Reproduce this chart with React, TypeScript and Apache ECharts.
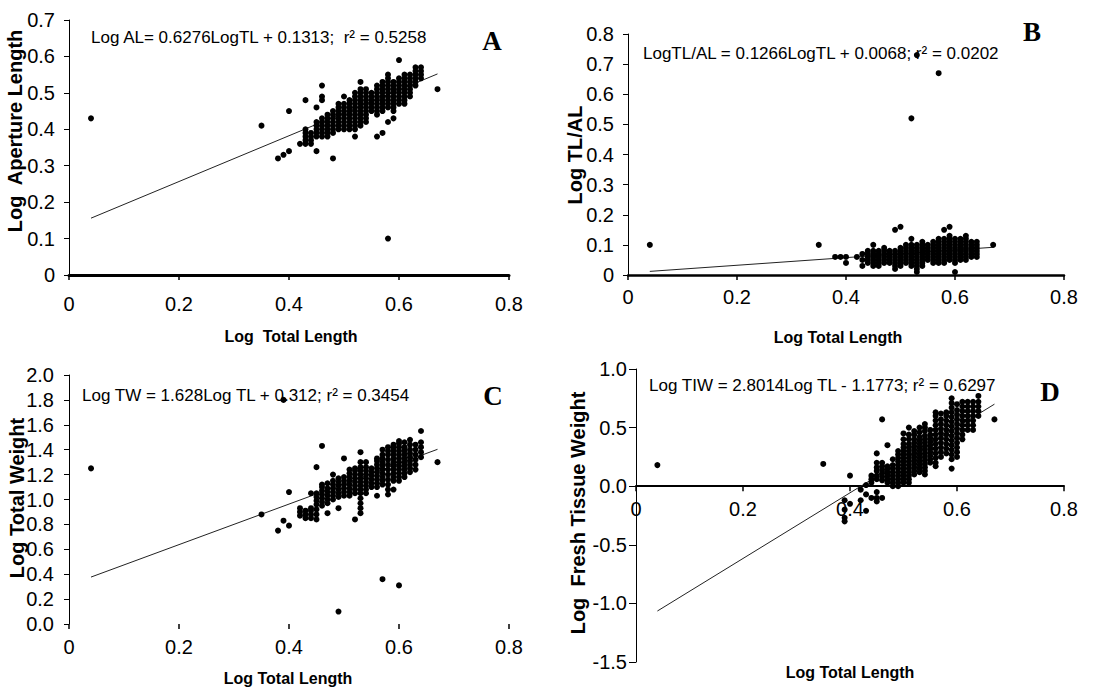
import React, { useEffect, useRef } from "react";
import * as echarts from "echarts";

// ---------- DATA (columns of points: [Log TL, [y values]]) ----------
const colsA: [number, number[]][] = [
  [0.04, [0.43]],
  [0.35, [0.41]],
  [0.38, [0.32]],
  [0.39, [0.33]],
  [0.4, [0.34, 0.45]],
  [0.42, [0.36]],
  [0.43, [0.36, 0.37, 0.38, 0.39, 0.4, 0.48]],
  [0.44, [0.36, 0.37, 0.38, 0.39]],
  [0.45, [0.34, 0.38, 0.39, 0.4, 0.41, 0.42, 0.46]],
  [0.46, [0.38, 0.39, 0.4, 0.41, 0.42, 0.43, 0.48, 0.49, 0.52]],
  [0.47, [0.38, 0.39, 0.4, 0.41, 0.42, 0.43, 0.44]],
  [0.48, [0.32, 0.39, 0.4, 0.41, 0.42, 0.43, 0.44, 0.45]],
  [0.49, [0.4, 0.41, 0.42, 0.43, 0.44, 0.45, 0.46, 0.47]],
  [0.5, [0.4, 0.41, 0.42, 0.43, 0.44, 0.45, 0.46, 0.47, 0.49]],
  [0.51, [0.4, 0.41, 0.42, 0.43, 0.44, 0.45, 0.46, 0.47, 0.48]],
  [0.52, [0.38, 0.4, 0.41, 0.42, 0.43, 0.44, 0.45, 0.46, 0.47, 0.48, 0.49, 0.5]],
  [0.53, [0.41, 0.42, 0.43, 0.44, 0.45, 0.46, 0.47, 0.48, 0.49, 0.5, 0.51, 0.53]],
  [0.54, [0.42, 0.43, 0.44, 0.45, 0.46, 0.47, 0.48, 0.49, 0.5, 0.51]],
  [0.55, [0.45, 0.46, 0.47, 0.48, 0.49, 0.5]],
  [0.56, [0.38, 0.44, 0.45, 0.46, 0.47, 0.48, 0.49, 0.5, 0.51, 0.52]],
  [0.57, [0.39, 0.45, 0.46, 0.47, 0.48, 0.49, 0.5, 0.51, 0.52, 0.53]],
  [0.58, [0.1, 0.42, 0.46, 0.47, 0.48, 0.49, 0.5, 0.51, 0.52, 0.53, 0.54, 0.55]],
  [0.59, [0.43, 0.45, 0.46, 0.47, 0.48, 0.49, 0.5, 0.51, 0.52, 0.53]],
  [0.6, [0.47, 0.48, 0.49, 0.5, 0.51, 0.52, 0.53, 0.54, 0.59]],
  [0.61, [0.47, 0.48, 0.49, 0.5, 0.51, 0.52, 0.53, 0.54, 0.55]],
  [0.62, [0.49, 0.5, 0.51, 0.52, 0.53, 0.54, 0.55]],
  [0.63, [0.52, 0.53, 0.54, 0.55, 0.56, 0.57]],
  [0.64, [0.54, 0.55, 0.56, 0.57]],
  [0.67, [0.51]],
];

const colsB: [number, number[]][] = [
  [0.04, [0.1]],
  [0.35, [0.1]],
  [0.38, [0.06]],
  [0.39, [0.06]],
  [0.4, [0.04, 0.06]],
  [0.42, [0.06]],
  [0.43, [0.03, 0.05, 0.07]],
  [0.44, [0.04, 0.05, 0.06, 0.07, 0.08]],
  [0.45, [0.03, 0.04, 0.05, 0.06, 0.07, 0.08, 0.1]],
  [0.46, [0.03, 0.04, 0.05, 0.06, 0.07, 0.08]],
  [0.47, [0.04, 0.05, 0.06, 0.07, 0.08, 0.09]],
  [0.48, [0.04, 0.05, 0.06, 0.07, 0.08]],
  [0.49, [0.02, 0.03, 0.04, 0.05, 0.06, 0.07, 0.08, 0.15]],
  [0.5, [0.03, 0.04, 0.05, 0.06, 0.07, 0.08, 0.09, 0.16]],
  [0.51, [0.04, 0.05, 0.06, 0.07, 0.08, 0.09, 0.1]],
  [0.52, [0.03, 0.04, 0.05, 0.06, 0.07, 0.08, 0.09, 0.1, 0.12, 0.52]],
  [0.53, [0.01, 0.02, 0.03, 0.04, 0.05, 0.06, 0.07, 0.08, 0.09, 0.1, 0.73]],
  [0.54, [0.03, 0.04, 0.05, 0.06, 0.07, 0.08, 0.09, 0.1, 0.11]],
  [0.55, [0.05, 0.06, 0.07, 0.08, 0.09, 0.1]],
  [0.56, [0.04, 0.05, 0.06, 0.07, 0.08, 0.09, 0.1, 0.11]],
  [0.57, [0.04, 0.05, 0.06, 0.07, 0.08, 0.09, 0.1, 0.11, 0.12, 0.67]],
  [0.58, [0.04, 0.05, 0.06, 0.07, 0.08, 0.09, 0.1, 0.11, 0.12, 0.15]],
  [0.59, [0.05, 0.06, 0.07, 0.08, 0.09, 0.1, 0.11, 0.12, 0.13, 0.16]],
  [0.6, [0.01, 0.04, 0.05, 0.06, 0.07, 0.08, 0.09, 0.1, 0.11, 0.12]],
  [0.61, [0.05, 0.06, 0.07, 0.08, 0.09, 0.1, 0.11, 0.12]],
  [0.62, [0.05, 0.06, 0.07, 0.08, 0.09, 0.1, 0.11, 0.12, 0.13]],
  [0.63, [0.06, 0.07, 0.08, 0.09, 0.1, 0.11]],
  [0.64, [0.06, 0.07, 0.08, 0.09, 0.1, 0.11]],
  [0.67, [0.1]],
];

const colsC: [number, number[]][] = [
  [0.04, [1.25]],
  [0.35, [0.88]],
  [0.38, [0.75]],
  [0.39, [0.83, 1.8]],
  [0.4, [0.79, 1.06]],
  [0.42, [0.87, 0.9, 0.93]],
  [0.43, [0.85, 0.88, 0.91]],
  [0.44, [0.85, 0.88, 0.91, 0.93, 1.05]],
  [0.45, [0.84, 0.88, 0.92, 0.96, 0.99, 1.02, 1.05, 1.26]],
  [0.46, [0.95, 0.98, 1.01, 1.04, 1.07, 1.1, 1.12, 1.43]],
  [0.47, [0.89, 0.97, 1.0, 1.03, 1.06, 1.09, 1.13]],
  [0.48, [1.0, 1.03, 1.06, 1.09, 1.12, 1.15, 1.2]],
  [0.49, [0.1, 0.93, 1.02, 1.05, 1.08, 1.11, 1.14, 1.17]],
  [0.5, [1.03, 1.06, 1.09, 1.12, 1.15, 1.18, 1.33]],
  [0.51, [1.03, 1.06, 1.09, 1.12, 1.15, 1.18, 1.21, 1.24]],
  [0.52, [0.84, 1.05, 1.08, 1.11, 1.14, 1.17, 1.2, 1.23, 1.25]],
  [0.53, [0.89, 0.93, 0.97, 1.01, 1.05, 1.08, 1.11, 1.14, 1.17, 1.2, 1.23, 1.26, 1.3, 1.38]],
  [0.54, [1.05, 1.08, 1.11, 1.14, 1.17, 1.2, 1.23, 1.26, 1.3]],
  [0.55, [1.1, 1.13, 1.16, 1.19, 1.22, 1.25]],
  [0.56, [1.03, 1.1, 1.13, 1.16, 1.19, 1.22, 1.25, 1.28, 1.31, 1.33]],
  [0.57, [0.36, 1.12, 1.15, 1.18, 1.21, 1.24, 1.27, 1.3, 1.33, 1.36, 1.4]],
  [0.58, [1.04, 1.08, 1.12, 1.16, 1.2, 1.24, 1.28, 1.32, 1.36, 1.39, 1.42]],
  [0.59, [1.08, 1.15, 1.18, 1.21, 1.24, 1.27, 1.3, 1.33, 1.36, 1.39, 1.42, 1.44]],
  [0.6, [0.31, 1.15, 1.18, 1.21, 1.24, 1.27, 1.3, 1.33, 1.36, 1.39, 1.42, 1.45, 1.47]],
  [0.61, [1.18, 1.21, 1.24, 1.27, 1.3, 1.33, 1.36, 1.39, 1.42, 1.46]],
  [0.62, [1.22, 1.25, 1.28, 1.31, 1.34, 1.37, 1.4, 1.44, 1.48]],
  [0.63, [1.24, 1.28, 1.32, 1.36, 1.4, 1.44]],
  [0.64, [1.34, 1.38, 1.42, 1.46, 1.55]],
  [0.67, [1.3]],
];

const colsD: [number, number[]][] = [
  [0.04, [0.18]],
  [0.35, [0.19]],
  [0.39, [-0.12, -0.2, -0.27, -0.3]],
  [0.4, [0.09, -0.15]],
  [0.42, [-0.03, -0.12]],
  [0.43, [0.01, -0.07, -0.21]],
  [0.44, [0.03, 0.06, 0.09, -0.1]],
  [0.45, [-0.13, -0.1, -0.05, 0.06, 0.09, 0.13, 0.16, 0.2, 0.28]],
  [0.46, [-0.1, 0.05, 0.08, 0.11, 0.14, 0.17, 0.2, 0.57]],
  [0.47, [0.03, 0.06, 0.09, 0.12, 0.15, 0.17, 0.35]],
  [0.48, [0.0, 0.03, 0.06, 0.09, 0.12, 0.15, 0.18, 0.23]],
  [0.49, [0.0, 0.03, 0.06, 0.09, 0.12, 0.15, 0.18, 0.21, 0.24, 0.27, 0.3]],
  [0.5, [0.03, 0.06, 0.09, 0.12, 0.15, 0.18, 0.21, 0.24, 0.27, 0.3, 0.33, 0.36, 0.4, 0.45]],
  [0.51, [0.03, 0.06, 0.09, 0.12, 0.15, 0.18, 0.21, 0.24, 0.27, 0.3, 0.33, 0.36, 0.4, 0.44, 0.5]],
  [0.52, [0.1, 0.13, 0.16, 0.19, 0.22, 0.25, 0.28, 0.31, 0.34, 0.37, 0.4, 0.44, 0.47]],
  [0.53, [0.12, 0.15, 0.18, 0.21, 0.24, 0.27, 0.3, 0.33, 0.36, 0.39, 0.42, 0.46, 0.5]],
  [0.54, [0.1, 0.13, 0.16, 0.19, 0.22, 0.25, 0.28, 0.31, 0.34, 0.37, 0.4, 0.43, 0.47, 0.5, 0.53]],
  [0.55, [0.2, 0.23, 0.26, 0.29, 0.32, 0.35, 0.38, 0.41, 0.44, 0.48]],
  [0.56, [0.17, 0.2, 0.24, 0.28, 0.32, 0.36, 0.4, 0.44, 0.48, 0.52, 0.56, 0.6, 0.63]],
  [0.57, [0.25, 0.29, 0.33, 0.37, 0.41, 0.45, 0.49, 0.53, 0.57, 0.62]],
  [0.58, [0.28, 0.32, 0.36, 0.4, 0.44, 0.48, 0.52, 0.56, 0.6, 0.63]],
  [0.59, [0.15, 0.23, 0.27, 0.31, 0.35, 0.39, 0.43, 0.47, 0.51, 0.55, 0.59, 0.63, 0.67, 0.71, 0.75]],
  [0.6, [0.25, 0.29, 0.33, 0.37, 0.41, 0.45, 0.49, 0.53, 0.57, 0.61, 0.65, 0.7]],
  [0.61, [0.4, 0.44, 0.48, 0.52, 0.56, 0.6, 0.64, 0.68, 0.72]],
  [0.62, [0.48, 0.52, 0.56, 0.6, 0.64, 0.68, 0.72]],
  [0.63, [0.48, 0.52, 0.56, 0.6, 0.64, 0.68, 0.72]],
  [0.64, [0.6, 0.64, 0.68, 0.72, 0.77]],
  [0.67, [0.57]],
];

// Trend lines (end points)
const trendA = [[0.04, 0.156], [0.67, 0.552]];
const trendB = [[0.04, 0.012], [0.67, 0.092]];
const trendC = [[0.04, 0.377], [0.67, 1.403]];
const trendD = [[0.04, -1.065], [0.67, 0.7]];

const equations = [
  "Log AL= 0.6276LogTL + 0.1313;  r² = 0.5258",
  "LogTL/AL = 0.1266LogTL + 0.0068; r² = 0.0202",
  "Log TW = 1.628Log TL + 0.312; r² = 0.3454",
  "Log TIW = 2.8014Log TL - 1.1773; r² = 0.6297",
];
const panelLetters = ["A", "B", "C", "D"];
const yTitles = ["Log  Aperture Length", "Log TL/AL", "Log Total Weight", "Log  Fresh Tissue Weight"];
const xTitles = ["Log  Total Length", "Log Total Length", "Log Total Length", "Log Total Length"];

const yRanges = [
  { min: 0, max: 0.7, interval: 0.1 },
  { min: 0, max: 0.8, interval: 0.1 },
  { min: 0, max: 2.0, interval: 0.2 },
  { min: -1.5, max: 1.0, interval: 0.5 },
];

// ---------- LAYOUT ----------
const grids = [
  { left: 69, top: 20, width: 440, height: 255 },
  { left: 628, top: 34, width: 436, height: 241 },
  { left: 69, top: 375, width: 440, height: 249 },
  { left: 636, top: 369, width: 428, height: 293 },
];

const FONT = "'Liberation Sans', Arial, sans-serif";

const flatten = (cols: [number, number[]][]) =>
  cols.flatMap(([x, ys]) => ys.map((y) => [x, y]));

export default function App() {
  const ref = useRef<HTMLDivElement>(null);
  useEffect(() => {
    if (!ref.current) return;
    const chart = echarts.init(ref.current, null, { renderer: "svg" });
    const allCols = [colsA, colsB, colsC, colsD];
    const trends = [trendA, trendB, trendC, trendD];

    const xLineWidth = [3, 2.5, 0, 2];
    const xLabelMargin = [19, 12, 13, 13];
    // D's x axis sits at y = 0: shift it up from the grid bottom
    const dZeroOffset = -(grids[3].height * (0 - yRanges[3].min)) / (yRanges[3].max - yRanges[3].min);
    const xOffset = [0, 0, 0, dZeroOffset];
    const yLabelMargin = [14, 14, 15, 9];
    const yTickLen = [5, 5, 5, 7];
    const yFormat = [
      undefined,
      undefined,
      (v: number) => v.toFixed(1),
      (v: number) => v.toFixed(1),
    ];

    const xAxis = grids.map((_, i) => ({
      gridIndex: i,
      type: "value",
      position: "bottom",
      offset: xOffset[i],
      min: 0,
      max: 0.8,
      interval: 0.2,
      axisLine: {
        show: xLineWidth[i] > 0,
        onZero: false,
        lineStyle: { color: "#000", width: xLineWidth[i] || 1 },
      },
      axisTick: { show: true, length: 5, lineStyle: { color: "#000", width: 1.5 } },
      axisLabel: { fontSize: 20, color: "#000", margin: xLabelMargin[i], fontFamily: FONT },
      splitLine: { show: false },
    }));

    const yAxis = grids.map((_, i) => ({
      gridIndex: i,
      type: "value",
      min: yRanges[i].min,
      max: yRanges[i].max,
      interval: yRanges[i].interval,
      axisLine: { show: true, onZero: false, lineStyle: { color: "#000", width: 1 } },
      axisTick: { show: true, length: yTickLen[i], lineStyle: { color: "#000", width: 1 } },
      axisLabel: {
        fontSize: 20,
        color: "#000",
        margin: yLabelMargin[i],
        fontFamily: FONT,
        formatter: yFormat[i],
      },
      splitLine: { show: false },
    }));

    const series: any[] = [];
    allCols.forEach((cols, i) => {
      series.push({
        type: "scatter",
        xAxisIndex: i,
        yAxisIndex: i,
        data: flatten(cols),
        symbol: "circle",
        symbolSize: 6,
        itemStyle: { color: "#000", opacity: 1, borderWidth: 0 },
        z: 3,
      });
      series.push({
        type: "line",
        xAxisIndex: i,
        yAxisIndex: i,
        data: trends[i],
        symbol: "none",
        lineStyle: { color: "#222", width: 1 },
        z: 2,
      });
    });

    const eqPos = [
      { x: 91, y: 37 },
      { x: 643, y: 53 },
      { x: 82, y: 395 },
      { x: 649, y: 385 },
    ];
    const letterPos = [
      { x: 492, y: 41 },
      { x: 1032, y: 32 },
      { x: 493, y: 396 },
      { x: 1050, y: 392 },
    ];
    const yTitlePos = [
      { x: 15, y: 131 },
      { x: 575, y: 155 },
      { x: 17, y: 498 },
      { x: 578, y: 513 },
    ];
    const xTitlePos = [
      { x: 291, y: 336 },
      { x: 838, y: 337 },
      { x: 288, y: 678 },
      { x: 850, y: 672 },
    ];

    const graphic: any[] = [];
    for (let i = 0; i < 4; i++) {
      graphic.push({
        type: "text",
        x: eqPos[i].x,
        y: eqPos[i].y,
        style: {
          text: equations[i],
          fontSize: 17,
          fontFamily: FONT,
          fill: "#000",
          align: "left",
          verticalAlign: "middle",
          textAlign: "left",
          textVerticalAlign: "middle",
        },
        z: 10,
      });
      graphic.push({
        type: "text",
        x: letterPos[i].x,
        y: letterPos[i].y,
        style: {
          text: panelLetters[i],
          fontSize: 27,
          fontWeight: "bold",
          fontFamily: "'Liberation Serif', 'Times New Roman', serif",
          fill: "#000",
          align: "center",
          verticalAlign: "middle",
          textAlign: "center",
          textVerticalAlign: "middle",
        },
        z: 10,
      });
      graphic.push({
        type: "text",
        x: yTitlePos[i].x,
        y: yTitlePos[i].y,
        rotation: Math.PI / 2,
        style: {
          text: yTitles[i],
          fontSize: 20,
          fontWeight: "bold",
          fontFamily: FONT,
          fill: "#000",
          align: "center",
          verticalAlign: "middle",
          textAlign: "center",
          textVerticalAlign: "middle",
        },
        z: 10,
      });
      graphic.push({
        type: "text",
        x: xTitlePos[i].x,
        y: xTitlePos[i].y,
        style: {
          text: xTitles[i],
          fontSize: 16,
          fontWeight: "bold",
          fontFamily: FONT,
          fill: "#000",
          align: "center",
          verticalAlign: "middle",
          textAlign: "center",
          textVerticalAlign: "middle",
        },
        z: 10,
      });
    }

    chart.setOption({
      animation: false,
      backgroundColor: "#fff",
      grid: grids.map((g) => ({ ...g, containLabel: false })),
      xAxis,
      yAxis,
      series,
      graphic,
    });
    return () => chart.dispose();
  }, []);

  return (
    <div
      ref={ref}
      style={{ position: "fixed", left: 0, top: 0, width: 1117, height: 691, background: "#fff" }}
    />
  );
}
